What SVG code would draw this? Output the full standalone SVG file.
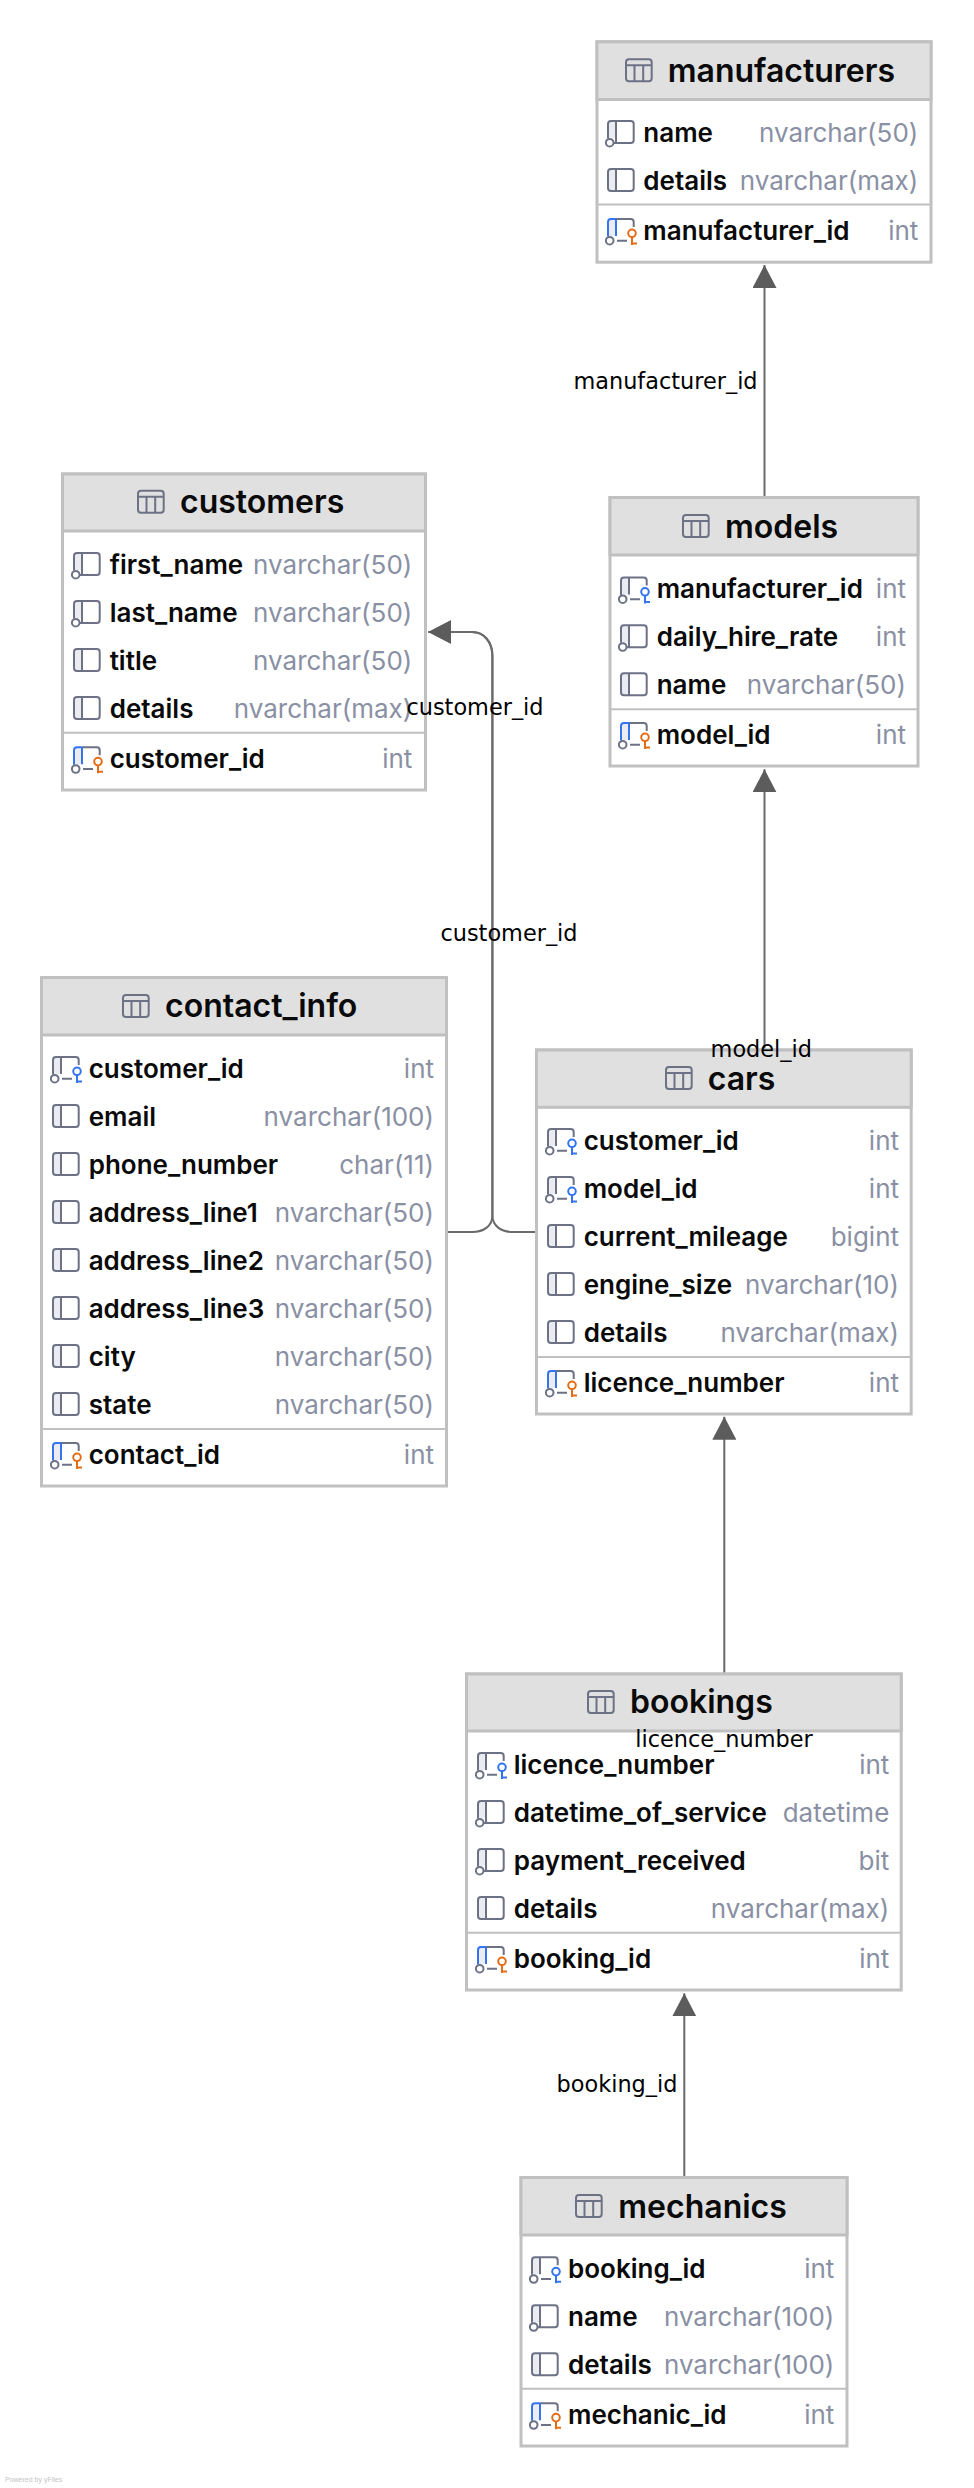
<svg xmlns="http://www.w3.org/2000/svg" width="974" height="2488" viewBox="0 0 974 2488">
<style>
.box{fill:#fff;stroke:#c0c0c0;stroke-width:3}
.hd{fill:#e0e0e0;stroke:#c0c0c0;stroke-width:3}
.sep{stroke:#c0c0c0;stroke-width:2}
.t{font:600 32px Inter,"Liberation Sans",sans-serif;fill:#0a0a0a}
.c{font:600 26px Inter,"Liberation Sans",sans-serif;fill:#0a0a0a}
.y{font:400 26px Inter,"Liberation Sans",sans-serif;fill:#8a90a4;text-anchor:end}
.l{font:400 22.4px "DejaVu Sans",sans-serif;fill:#000;text-anchor:middle}
.line{fill:none;stroke:#6a6a6a;stroke-width:2}
.i{fill:none;stroke:#6c7186;stroke-width:2}
.p{fill:#eaecf2;stroke:none}
.fk{fill:none;stroke:#3574f0;stroke-width:2}
.pk{fill:none;stroke:#e66d17;stroke-width:2}
.pw{font:400 7px "Liberation Sans",sans-serif;fill:#c4c4c4}
</style>
<defs>
<marker id="arrow" markerUnits="userSpaceOnUse" markerWidth="23" markerHeight="24" refX="23" refY="12" orient="auto"><path d="M0,0L23,12L0,24Z" fill="#5c5c5c"/></marker>
<g id="itab"><rect x="1" y="-11" width="25.7" height="22" rx="3" fill="#eceef3" class="i"/><path class="i" d="M1,-5H26.7M9.5,-5V11M18.2,-5V11"/></g>
<g id="ip"><rect x="1" y="-11" width="8" height="22" rx="3" class="p"/><rect x="1" y="-11" width="25.7" height="22" rx="3" class="i"/><path class="i" d="M9,-11V11"/></g>
<g id="in"><path class="p" d="M1,-11H9V6H1Z"/><path class="i" d="M1,6.500V-8a3,3,0,0,1,3,-3H23.700a3,3,0,0,1,3,3V8a3,3,0,0,1,-3,3H7M9,-11V11"/><circle class="i" cx="2.700" cy="10.700" r="3.800"/></g>
<g id="ifk"><path class="p" d="M1,-11H9V6H1Z"/><path class="i" d="M1,6.500V-8a3,3,0,0,1,3,-3H23.700a3,3,0,0,1,3,3V-3M9,-11V6M10,10.700H20"/><circle class="i" cx="2.700" cy="10.700" r="3.800"/><circle class="fk" cx="25" cy="3.300" r="3.800"/><path class="fk" d="M25,7V15M25,13.500H30"/></g>
<g id="ipk"><path class="p" d="M1,-11H9V6H1Z"/><path class="i" d="M9,-11H23.700a3,3,0,0,1,3,3V-3M10,10.700H20"/><path class="fk" d="M1,6.500V-8a3,3,0,0,1,3,-3H9M9,-11V6"/><circle class="i" cx="2.700" cy="10.700" r="3.800"/><circle class="pk" cx="25" cy="3.300" r="3.800"/><path class="pk" d="M25,7V15M25,13.500H30"/></g>
</defs>

<g id="connectors">
<path class="line" marker-end="url(#arrow)" d="M764.500,497V265"/>
<path class="line" marker-end="url(#arrow)" d="M448,1232H472C484,1232 492.400,1226 492.400,1215V656C492.400,642 484,632 472,632H428.300"/>
<path class="line" marker-end="url(#arrow)" d="M535,1232H513C501,1232 492.400,1226 492.400,1215V656C492.400,642 484,632 472,632H428.300"/>
<path class="line" marker-end="url(#arrow)" d="M764.500,1049V769.300"/>
<path class="line" marker-end="url(#arrow)" d="M724.300,1673V1416.700"/>
<path class="line" marker-end="url(#arrow)" d="M684.300,2177V1993.300"/>
</g>

<g id="manufacturers">
<rect class="box" x="597" y="41.800" width="334" height="220.400"/><rect class="hd" x="597" y="41.800" width="334" height="57.700"/><path class="sep" d="M597,204.500H931"/>
<use href="#itab" x="625" y="70.300"/><text class="t" x="667.700" y="82">manufacturers</text>
<use href="#in" x="607" y="132"/><text class="c" x="643.300" y="141.500">name</text><text class="y" x="918.300" y="141.500">nvarchar(50)</text>
<use href="#ip" x="607" y="180"/><text class="c" x="643.300" y="189.500">details</text><text class="y" x="918.300" y="189.500">nvarchar(max)</text>
<use href="#ipk" x="607" y="230"/><text class="c" x="643.300" y="239.500">manufacturer_id</text><text class="y" x="918.300" y="239.500">int</text>
</g>

<g id="customers">
<rect class="box" x="62.500" y="474" width="363" height="316"/><rect class="hd" x="62.500" y="474" width="363" height="57"/><path class="sep" d="M62.500,732.700H425.500"/>
<use href="#itab" x="137" y="501.700"/><text class="t" x="180" y="513.300">customers</text>
<use href="#in" x="73" y="564"/><text class="c" x="109.700" y="573.500">first_name</text><text class="y" x="412.300" y="573.500">nvarchar(50)</text>
<use href="#in" x="73" y="612"/><text class="c" x="109.700" y="621.500">last_name</text><text class="y" x="412.300" y="621.500">nvarchar(50)</text>
<use href="#ip" x="73" y="660"/><text class="c" x="109.700" y="669.500">title</text><text class="y" x="412.300" y="669.500">nvarchar(50)</text>
<use href="#ip" x="73" y="708"/><text class="c" x="109.700" y="717.500">details</text><text class="y" x="412.300" y="717.500">nvarchar(max)</text>
<use href="#ipk" x="73" y="758.300"/><text class="c" x="109.700" y="767.800">customer_id</text><text class="y" x="412.300" y="767.800">int</text>
</g>

<g id="models">
<rect class="box" x="610" y="497.500" width="308" height="268.500"/><rect class="hd" x="610" y="497.500" width="308" height="57.500"/><path class="sep" d="M610,709.300H918"/>
<use href="#itab" x="682" y="526"/><text class="t" x="725" y="538">models</text>
<use href="#ifk" x="620" y="588.500"/><text class="c" x="656.700" y="598">manufacturer_id</text><text class="y" x="906" y="598">int</text>
<use href="#in" x="620" y="636.300"/><text class="c" x="656.700" y="645.800">daily_hire_rate</text><text class="y" x="906" y="645.800">int</text>
<use href="#ip" x="620" y="684.300"/><text class="c" x="656.700" y="693.800">name</text><text class="y" x="906" y="693.800">nvarchar(50)</text>
<use href="#ipk" x="620" y="734"/><text class="c" x="656.700" y="743.500">model_id</text><text class="y" x="906" y="743.500">int</text>
</g>

<g id="contact_info">
<rect class="box" x="41.500" y="977.500" width="405" height="508.500"/><rect class="hd" x="41.500" y="977.500" width="405" height="57.500"/><path class="sep" d="M41.500,1429H446.500"/>
<use href="#itab" x="122" y="1006"/><text class="t" x="165" y="1016.700">contact_info</text>
<use href="#ifk" x="52" y="1068"/><text class="c" x="88.700" y="1077.500">customer_id</text><text class="y" x="434" y="1077.500">int</text>
<use href="#ip" x="52" y="1116"/><text class="c" x="88.700" y="1125.500">email</text><text class="y" x="434" y="1125.500">nvarchar(100)</text>
<use href="#ip" x="52" y="1164"/><text class="c" x="88.700" y="1173.500">phone_number</text><text class="y" x="434" y="1173.500">char(11)</text>
<use href="#ip" x="52" y="1212"/><text class="c" x="88.700" y="1221.500">address_line1</text><text class="y" x="434" y="1221.500">nvarchar(50)</text>
<use href="#ip" x="52" y="1260"/><text class="c" x="88.700" y="1269.500">address_line2</text><text class="y" x="434" y="1269.500">nvarchar(50)</text>
<use href="#ip" x="52" y="1308"/><text class="c" x="88.700" y="1317.500">address_line3</text><text class="y" x="434" y="1317.500">nvarchar(50)</text>
<use href="#ip" x="52" y="1356"/><text class="c" x="88.700" y="1365.500">city</text><text class="y" x="434" y="1365.500">nvarchar(50)</text>
<use href="#ip" x="52" y="1404"/><text class="c" x="88.700" y="1413.500">state</text><text class="y" x="434" y="1413.500">nvarchar(50)</text>
<use href="#ipk" x="52" y="1454"/><text class="c" x="88.700" y="1463.500">contact_id</text><text class="y" x="434" y="1463.500">int</text>
</g>

<g id="cars">
<rect class="box" x="536.500" y="1050" width="374.700" height="364"/><rect class="hd" x="536.500" y="1050" width="374.700" height="57.300"/><path class="sep" d="M536.500,1357H911.200"/>
<use href="#itab" x="665" y="1078"/><text class="t" x="707.700" y="1090">cars</text>
<use href="#ifk" x="547" y="1140"/><text class="c" x="583.700" y="1149.500">customer_id</text><text class="y" x="899" y="1149.500">int</text>
<use href="#ifk" x="547" y="1188"/><text class="c" x="583.700" y="1197.500">model_id</text><text class="y" x="899" y="1197.500">int</text>
<use href="#ip" x="547" y="1236"/><text class="c" x="583.700" y="1245.500">current_mileage</text><text class="y" x="899" y="1245.500">bigint</text>
<use href="#ip" x="547" y="1284"/><text class="c" x="583.700" y="1293.500">engine_size</text><text class="y" x="899" y="1293.500">nvarchar(10)</text>
<use href="#ip" x="547" y="1332"/><text class="c" x="583.700" y="1341.500">details</text><text class="y" x="899" y="1341.500">nvarchar(max)</text>
<use href="#ipk" x="547" y="1382"/><text class="c" x="583.700" y="1391.500">licence_number</text><text class="y" x="899" y="1391.500">int</text>
</g>

<g id="bookings">
<rect class="box" x="466.500" y="1674" width="434.700" height="316"/><rect class="hd" x="466.500" y="1674" width="434.700" height="57"/><path class="sep" d="M466.500,1932.700H901.200"/>
<use href="#itab" x="587" y="1702"/><text class="t" x="630" y="1713.300">bookings</text>
<use href="#ifk" x="477" y="1764"/><text class="c" x="513.700" y="1773.500">licence_number</text><text class="y" x="889.300" y="1773.500">int</text>
<use href="#in" x="477" y="1812"/><text class="c" x="513.700" y="1821.500">datetime_of_service</text><text class="y" x="889.300" y="1821.500">datetime</text>
<use href="#in" x="477" y="1860"/><text class="c" x="513.700" y="1869.500">payment_received</text><text class="y" x="889.300" y="1869.500">bit</text>
<use href="#ip" x="477" y="1908"/><text class="c" x="513.700" y="1917.500">details</text><text class="y" x="889.300" y="1917.500">nvarchar(max)</text>
<use href="#ipk" x="477" y="1958"/><text class="c" x="513.700" y="1967.500">booking_id</text><text class="y" x="889.300" y="1967.500">int</text>
</g>

<g id="mechanics">
<rect class="box" x="521" y="2177.500" width="326" height="268.500"/><rect class="hd" x="521" y="2177.500" width="326" height="57.500"/><path class="sep" d="M521,2388.700H847"/>
<use href="#itab" x="575" y="2206"/><text class="t" x="618.300" y="2217.700">mechanics</text>
<use href="#ifk" x="531" y="2268.300"/><text class="c" x="568" y="2277.800">booking_id</text><text class="y" x="834.300" y="2277.800">int</text>
<use href="#in" x="531" y="2316.300"/><text class="c" x="568" y="2325.800">name</text><text class="y" x="834.300" y="2325.800">nvarchar(100)</text>
<use href="#ip" x="531" y="2364.300"/><text class="c" x="568" y="2373.800">details</text><text class="y" x="834.300" y="2373.800">nvarchar(100)</text>
<use href="#ipk" x="531" y="2414.300"/><text class="c" x="568" y="2423.800">mechanic_id</text><text class="y" x="834.300" y="2423.800">int</text>
</g>

<g id="labels">
<text class="l" x="665.500" y="389">manufacturer_id</text>
<text class="l" x="475" y="715">customer_id</text>
<text class="l" x="509" y="940.700">customer_id</text>
<text class="l" x="761.300" y="1056.700">model_id</text>
<text class="l" x="724" y="1747.300">licence_number</text>
<text class="l" x="617" y="2092">booking_id</text>
</g>
<text class="pw" x="5" y="2482">Powered by yFiles</text>
</svg>
